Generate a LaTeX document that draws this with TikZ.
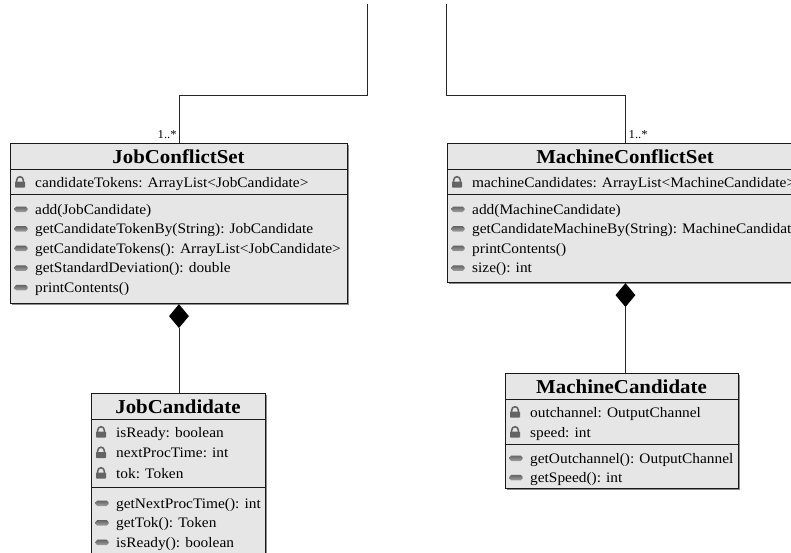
\documentclass[tikz,border=0pt]{standalone}
\usepackage{fontspec}
\setmainfont[FakeStretch=1.06]{Liberation Serif}
\usetikzlibrary{shapes.geometric,shadows}

\definecolor{boxgray}{RGB}{230,230,230}
\definecolor{icongray}{RGB}{100,100,100}

\begin{document}
\begin{tikzpicture}
  [x=1pt,y=-1pt,
   classbox/.style={draw=black!90,fill=boxgray,line width=0.9pt,inner sep=0pt,anchor=north west,
     drop shadow={shadow xshift=2pt,shadow yshift=-2pt,fill=black!45,opacity=1}},
   title/.style={font=\fontsize{19.7}{22}\selectfont\bfseries,inner sep=0pt,anchor=base},
   row/.style={font=\fontsize{14.5}{16}\selectfont,inner sep=0pt,anchor=base west},
   mult/.style={font=\fontsize{12}{13}\selectfont,inner sep=0pt},
   comp/.style={diamond,fill=black,inner sep=0pt,minimum width=20pt,minimum height=24pt,anchor=north},
   link/.style={draw=black!85,line width=0.8pt},
   lockicon/.pic={
     \fill[icongray,rounded corners=0.6pt] (-5,-0.5) rectangle (5,5.5);
     \draw[icongray,line width=1.6pt] (-3.4,0) -- (-3.4,-1.5) .. controls (-3.4,-6.5) and (3.4,-6.5) .. (3.4,-1.5) -- (3.4,0);},
   opicon/.pic={
     \shade[top color=icongray,bottom color=icongray!60,rounded corners=1.8pt] (-6.5,-2.5) rectangle (6.5,3);}]

  \useasboundingbox (0,0) rectangle (791,552);
  \clip (0,0) rectangle (791,552);

  % class boxes
  \node[classbox,minimum width=337pt,minimum height=160pt] (jcs) at (10,143) {};
  \node[classbox,minimum width=356pt,minimum height=139pt] (mcs) at (447,143) {};
  \node[classbox,minimum width=174pt,minimum height=172pt] (jc) at (91,393) {};
  \node[classbox,minimum width=233pt,minimum height=115pt] (mc) at (505,373) {};

  \node[title] (jcsT) at (178.5,163) {JobConflictSet};
  \node[title] (mcsT) at (625,163) {MachineConflictSet};
  \node[title] (jcT) at (178,413) {JobCandidate};
  \node[title] (mcT) at (621.5,393) {MachineCandidate};

  \foreach \a/\b/\y in {10/347/169,10/347/194,447/803/169,447/803/194,
                        91/265/419,91/265/487,505/738/399,505/738/444}
    \draw[black!90,line width=0.8pt] (\a,\y) -- (\b,\y);

  % JobConflictSet
  \foreach \txt [count=\i] in {candidateTokens: ArrayList<JobCandidate>} {
    \pic at (20,{182+20*(\i-1)}) {lockicon};
    \node[row] (jcsA\i) at (35,{187+20*(\i-1)}) {\txt};
  }
  \foreach \txt [count=\i] in {add(JobCandidate),getCandidateTokenBy(String): JobCandidate,
      getCandidateTokens(): ArrayList<JobCandidate>,getStandardDeviation(): double,printContents()} {
    \pic at (21,{209+19.6*(\i-1)}) {opicon};
    \node[row] (jcsM\i) at (35,{214+19.6*(\i-1)}) {\txt};
  }

  % MachineConflictSet
  \foreach \txt [count=\i] in {machineCandidates: ArrayList<MachineCandidate>} {
    \pic at (457,{182+20*(\i-1)}) {lockicon};
    \node[row] (mcsA\i) at (472,{187+20*(\i-1)}) {\txt};
  }
  \foreach \txt [count=\i] in {add(MachineCandidate),getCandidateMachineBy(String): MachineCandidate,
      printContents(),size(): int} {
    \pic at (458,{209+19.6*(\i-1)}) {opicon};
    \node[row] (mcsM\i) at (472,{214+19.6*(\i-1)}) {\txt};
  }

  % JobCandidate
  \foreach \txt [count=\i] in {isReady: boolean,nextProcTime: int,tok: Token} {
    \pic at (101,{432+20.5*(\i-1)}) {lockicon};
    \node[row] (jcA\i) at (116,{437+20.5*(\i-1)}) {\txt};
  }
  \foreach \txt [count=\i] in {getNextProcTime(): int,getTok(): Token,isReady(): boolean} {
    \pic at (102,{503+19.6*(\i-1)}) {opicon};
    \node[row] (jcM\i) at (116,{508+19.6*(\i-1)}) {\txt};
  }

  % MachineCandidate
  \foreach \txt [count=\i] in {outchannel: OutputChannel,speed: int} {
    \pic at (515,{412+20*(\i-1)}) {lockicon};
    \node[row] (mcA\i) at (530,{417+20*(\i-1)}) {\txt};
  }
  \foreach \txt [count=\i] in {getOutchannel(): OutputChannel,getSpeed(): int} {
    \pic at (516,{458+19.4*(\i-1)}) {opicon};
    \node[row] (mcM\i) at (530,{463+19.4*(\i-1)}) {\txt};
  }

  % associations from above
  \coordinate (topL) at (367,4);
  \coordinate (topR) at (446,4);
  \draw[link] (topL) |- ([yshift=48pt]jcs.north) -- (jcs.north);
  \draw[link] (topR) |- ([yshift=48pt]mcs.north) -- (mcs.north);
  \node[mult,anchor=base east] (jcsN) at ([shift={(-2,-5)}]jcs.north) {1..*};
  \node[mult,anchor=base west] (mcsN) at ([shift={(3,-5)}]mcs.north) {1..*};

  % compositions
  \node[comp] (dL) at (jcs.south) {};
  \node[comp] (dR) at (mcs.south) {};
  \draw[link] (dL.south) -- (dL.south |- jc.north);
  \draw[link] (dR.south) -- (dR.south |- mc.north);

\end{tikzpicture}
\end{document}
